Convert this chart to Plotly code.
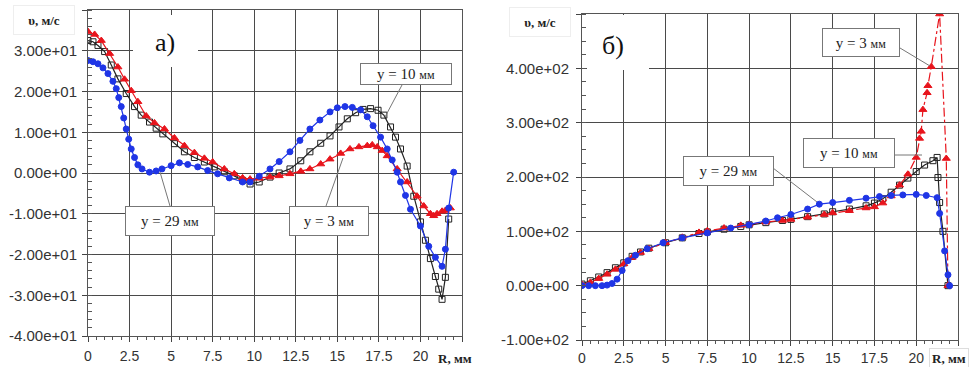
import plotly.graph_objects as go

W, H = 971, 367

# ---------------- Panel a) data ----------------
a_r3 = [0, 0.4, 0.8, 1.3, 1.8, 2.2, 2.6, 3.0, 3.5, 4.0, 4.6, 5.2, 5.8, 6.4, 7.0, 7.5, 8.2, 8.8, 9.3, 9.75,
        10.3, 10.95, 11.5, 12.15, 12.8, 13.35, 14.0, 14.56, 15.2, 15.76, 16.3, 16.8, 17.1, 17.4, 17.7, 18.0,
        18.6, 19.2, 19.8, 20.2, 20.6, 20.8, 21.0, 21.3, 21.5, 21.8]
a_v3 = [34.7, 34.0, 32.5, 29.3, 26.0, 23.0, 20.2, 17.5, 14.0, 12.3, 10.8, 8.6, 6.7, 5.0, 3.6, 2.7, 1.0, -0.2, -1.2, -1.5,
        -1.3, -1.0, -0.7, -0.2, 0.4, 1.0, 2.2, 3.4, 4.8, 5.9, 6.4, 6.7, 6.9, 6.4, 5.5, 4.2,
        1.0, -2.2, -5.7, -8.1, -10.0, -10.5, -10.0, -9.4, -9.2, -8.6]

a_r10 = [0, 0.3, 0.6, 1.0, 1.4, 1.8, 2.3, 2.8, 3.2, 3.7, 4.1, 4.5, 5.2, 5.8, 6.4, 7.0, 7.6, 8.2, 8.8, 9.3, 9.75,
         10.3, 10.95, 11.5, 12.15, 12.8, 13.35, 14.0, 14.56, 15.1, 15.6, 16.1, 16.55, 17.0, 17.45, 17.8, 18.2,
         18.5, 18.8, 19.2, 19.6, 20.0, 20.3, 20.6, 20.9, 21.1, 21.3, 21.5, 21.7]
a_v10 = [32.5, 32.2, 31.3, 29.8, 26.5, 23.1, 19.5, 16.3, 14.2, 12.5, 11.0, 9.6, 7.2, 5.2, 3.8, 2.7, 1.5, 0.3, -0.7, -1.8, -2.7,
         -2.2, -1.0, 0.0, 1.0, 3.0, 5.2, 7.3, 9.1, 11.3, 13.3, 14.8, 15.6, 15.8, 15.4, 14.2, 11.3,
         8.8, 5.9, 1.7, -5.7, -12.0, -16.5, -21.0, -25.4, -28.5, -31.0, -25.6, -11.3]

a_r29 = [0, 0.3, 0.6, 0.9, 1.2, 1.5, 1.7, 1.85, 2.0, 2.15, 2.3, 2.45, 2.6, 2.8, 3.0, 3.25, 3.7, 4.1, 4.45, 5.0,
         5.5, 6.0, 6.6, 7.2, 7.8, 8.5, 9.3, 9.75, 10.3, 10.95, 11.5, 12.15, 12.75, 13.35, 13.95, 14.56, 15.0,
         15.46, 15.9, 16.4, 16.8, 17.15, 17.6, 18.0, 18.3, 18.6, 18.8, 19.1, 19.4, 20.0, 20.5, 20.9, 21.3,
         21.5, 21.7, 22.0]
a_v29 = [27.6, 27.3, 26.8, 25.8, 24.4, 22.5, 20.7, 18.5, 16.3, 13.5, 10.8, 8.3, 5.9, 3.8, 2.0, 1.0, 0.2, 0.5, 1.0, 1.8,
         2.5, 2.1, 1.5, 0.6, -0.2, -1.2, -2.2, -2.2, -0.8, 1.0, 2.8, 5.2, 8.0, 10.8, 13.0, 15.0, 16.0,
         16.3, 16.1, 15.5, 13.8, 11.6, 8.8, 5.9, 3.2, 0.2, -2.2, -5.5, -8.9, -13.0, -18.0, -20.7, -22.9,
         -18.7, -8.6, 0.2]

# ---------------- Panel б) data ----------------
b_r3 = [0, 0.5, 1.0, 1.5, 2.0, 2.5, 3.0, 3.5, 4.0, 5.0, 6.0, 7.0, 7.5, 8.5, 9.5, 10.0, 11.0, 12.0, 12.5, 13.5,
        14.5, 15.0, 16.0, 17.0, 17.5, 18.0, 18.5, 19.0, 19.5, 20.0, 20.2, 20.3, 20.4, 20.65, 20.7, 20.9,
        21.4, 21.8, 21.9]
b_v3 = [2, 6, 13, 21, 30, 40, 52, 61, 68, 79, 89, 98, 101, 106, 111, 113, 117, 120, 122, 126,
        131, 134, 138, 143, 145, 152, 165, 185, 205, 236, 271, 284, 324, 355, 368, 403,
        500, 234, 0]

b_r10 = [0, 0.5, 1.0, 1.5, 2.0, 2.5, 3.0, 3.5, 4.0, 5.0, 6.0, 7.0, 7.5, 8.5, 9.5, 10.0, 11.0, 12.0, 12.5, 13.5,
         14.5, 15.0, 16.0, 17.0, 17.5, 18.0, 18.5, 19.0, 19.5, 20.0, 20.5, 21.0, 21.25, 21.3, 21.4, 21.6, 21.9]
b_v10 = [3, 9, 16, 24, 33, 42, 54, 62, 69, 79, 88, 96, 99, 104, 109, 112, 116, 120, 122, 127,
         132, 136, 141, 147, 152, 160, 172, 185, 198, 210, 222, 230, 236, 199, 153, 100, 0]

b_r29 = [0, 0.4, 0.8, 1.2, 1.5, 1.8, 2.1, 2.4, 2.75, 3.2, 3.9, 4.85, 6.0, 7.5, 8.9, 10.0, 11.0, 11.7, 12.5,
         13.5, 14.2, 15.0, 16.0, 17.0, 17.8, 18.5, 19.2, 20.0, 20.6, 21.25, 21.4, 21.7, 21.9, 22.0]
b_v29 = [0, 0, 0, 0, 1, 4, 12, 28, 46, 56, 68, 79, 88, 97, 106, 112, 119, 125, 131,
         141, 150, 153, 157, 161, 164, 166, 167, 168, 166, 162, 133, 64, 20, 0]

# ---------------- ticks ----------------
x_ticks = [0, 2.5, 5, 7.5, 10, 12.5, 15, 17.5, 20, 22.5]
x_text = ["0", "2.5", "5", "7.5", "10", "12.5", "15", "17.5", "20", ""]
a_yticks = [-40, -30, -20, -10, 0, 10, 20, 30, 40]
a_ytext = ["-4.00e+01", "-3.00e+01", "-2.00e+01", "-1.00e+01", "0.00e+00", "1.00e+01", "2.00e+01", "3.00e+01", ""]
b_yticks = [-100, 0, 100, 200, 300, 400, 500]
b_ytext = ["-1.00e+02", "0.00e+00", "1.00e+02", "2.00e+02", "3.00e+02", "4.00e+02", ""]

RED = "#e8141c"
BLUE = "#1f35e6"
BLACK = "#222222"
SANS = "Liberation Sans, Arial, sans-serif"
SERIF = "Liberation Serif, Times New Roman, serif"


def px(x):
    return x / W


def py(y):
    return 1 - y / H


fig = go.Figure()


def add_series(r, v, xa, ya, color, symbol, size, dash="solid"):
    fig.add_trace(go.Scatter(
        x=r, y=v, xaxis=xa, yaxis=ya, mode="lines+markers",
        line=dict(color=color, width=1.2, dash=dash),
        marker=dict(symbol=symbol, size=size, color=color,
                    line=dict(color=color, width=1)),
        showlegend=False, hoverinfo="skip"))


add_series(a_r10, a_v10, "x", "y", BLACK, "square-open", 6)
add_series(a_r3, a_v3, "x", "y", RED, "triangle-up", 7)
add_series(a_r29, a_v29, "x", "y", BLUE, "circle", 6)

add_series(b_r10, b_v10, "x2", "y2", BLACK, "square-open", 6)
add_series(b_r3, b_v3, "x2", "y2", RED, "triangle-up", 7, dash="dashdot")
add_series(b_r29, b_v29, "x2", "y2", BLUE, "circle", 6)

axis_common = dict(
    showgrid=True, gridcolor="#4a4a4a", gridwidth=1,
    showline=True, linecolor="#555555", linewidth=1, mirror=True,
    zeroline=False, ticks="outside", ticklen=5, tickcolor="#444444",
    tickmode="array", automargin=False,
)
xfont = dict(family=SANS, size=14, color="#333333")
yfont = dict(family=SANS, size=15, color="#333333")

fig.update_layout(
    width=W, height=H,
    margin=dict(l=0, r=0, t=0, b=0),
    paper_bgcolor="white", plot_bgcolor="white",
    xaxis=dict(axis_common, domain=[px(88), px(462)], range=[0, 22.5], tickfont=xfont,
               tickvals=x_ticks, ticktext=x_text, anchor="y", ticklabelstandoff=2,
               minor=dict(tick0=0, dtick=0.5, ticks="outside", ticklen=3, tickcolor="#555")),
    yaxis=dict(axis_common, domain=[py(336), py(10)], range=[-40, 40], tickfont=yfont,
               tickvals=a_yticks, ticktext=a_ytext, anchor="x", ticklabelstandoff=2,
               minor=dict(tick0=0, dtick=2, ticks="inside", ticklen=4, tickcolor="#555")),
    xaxis2=dict(axis_common, domain=[px(582), px(958)], range=[0, 22.5], tickfont=xfont,
                tickvals=x_ticks, ticktext=x_text, anchor="y2", ticklabelstandoff=0,
                minor=dict(tick0=0, dtick=0.5, ticks="outside", ticklen=3, tickcolor="#555")),
    yaxis2=dict(axis_common, domain=[py(340), py(14)], range=[-100, 500], tickfont=yfont,
                tickvals=b_yticks, ticktext=b_ytext, anchor="x2", ticklabelstandoff=4,
                minor=dict(tick0=0, dtick=25, ticks="inside", ticklen=4, tickcolor="#555")),
)

shapes = []
annos = []

# white patches behind panel letters
for (x0, y0, x1, y1) in [(133, 15, 198, 67), (587, 15, 649, 70)]:
    shapes.append(dict(type="rect", xref="paper", yref="paper",
                       x0=px(x0), x1=px(x1), y0=py(y1), y1=py(y0),
                       fillcolor="white", line=dict(width=0), layer="above"))

# leader lines
for (x0, y0, x1, y1) in [(402, 85, 385, 117), (170, 206, 160, 172), (326, 206, 343, 158),
                         (900, 48, 930, 66), (895, 155, 922, 155), (773, 168, 817, 202)]:
    shapes.append(dict(type="line", xref="paper", yref="paper",
                       x0=px(x0), x1=px(x1), y0=py(y0), y1=py(y1),
                       line=dict(color="#777777", width=1), layer="above"))

C = dict(xref="paper", yref="paper", showarrow=False, xanchor="center", yanchor="middle")

# panel letters
annos.append(dict(C, text="a)", x=px(165), y=py(43), font=dict(family=SERIF, size=26, color="#111")))
annos.append(dict(C, text="б)", x=px(613), y=py(45), font=dict(family=SERIF, size=26, color="#111")))

# series labels in boxes
for (txt, x0, y0, x1, y1) in [("y = 10 <span style='font-size:12px'>мм</span>", 360, 63, 452, 85),
                              ("y = 29 <span style='font-size:12px'>мм</span>", 125, 206, 215, 236),
                              ("y = 3 <span style='font-size:12px'>мм</span>", 289, 206, 369, 236),
                              ("y = 3 <span style='font-size:12px'>мм</span>", 822, 28, 900, 57),
                              ("y = 10 <span style='font-size:12px'>мм</span>", 803, 138, 895, 168),
                              ("y = 29 <span style='font-size:12px'>мм</span>", 683, 156, 774, 186)]:
    annos.append(dict(C, text=txt, x=px((x0 + x1) / 2), y=py((y0 + y1) / 2),
                      width=x1 - x0 - 2, height=y1 - y0 - 2, borderpad=0,
                      bgcolor="white", bordercolor="#777777", borderwidth=1,
                      font=dict(family=SERIF, size=15, color="#222")))

# axis titles
for (cx, cy) in [(44, 20), (540, 22)]:
    annos.append(dict(C, text="<b>υ, м/с</b>", x=px(cx), y=py(cy),
                      width=60, height=28, borderpad=0,
                      bgcolor="white", bordercolor="#eeeeee", borderwidth=1,
                      font=dict(family=SERIF, size=13, color="#222")))
annos.append(dict(C, text="<b>R, мм</b>", x=px(436), y=py(358), xanchor="left", bgcolor="white",
                  font=dict(family=SERIF, size=13, color="#222")))
annos.append(dict(C, text="<b>R, мм</b>", x=px(969), y=py(358), xanchor="right", bgcolor="white",
                  bordercolor="#dddddd", borderwidth=1, borderpad=2,
                  font=dict(family=SERIF, size=13, color="#222")))

fig.update_layout(shapes=shapes, annotations=annos)
fig.write_html("out.html", config={"displayModeBar": False},
               post_script="document.body.style.margin='0px';document.body.style.padding='0px';")
